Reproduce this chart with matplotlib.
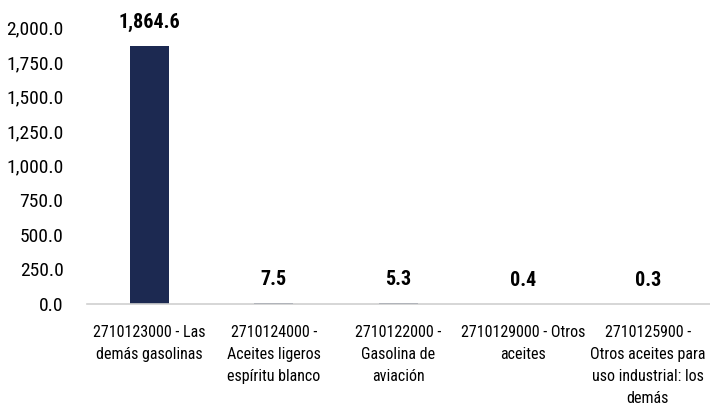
import matplotlib
matplotlib.use("Agg")
import matplotlib.pyplot as plt
from matplotlib import font_manager as fm
from matplotlib.ticker import FuncFormatter

categories = [
    "2710123000 - Las\ndemás gasolinas",
    "2710124000 -\nAceites ligeros\nespíritu blanco",
    "2710122000 -\nGasolina de\naviación",
    "2710129000 - Otros\naceites",
    "2710125900 -\nOtros aceites para\nuso industrial: los\ndemás",
]
values = [1864.6, 7.5, 5.3, 0.4, 0.3]
yticks = [0, 250, 500, 750, 1000, 1250, 1500, 1750, 2000]

# pick a condensed font if present
cands = [f for f in fm.fontManager.ttflist
         if any(k in f.fname.lower() for k in ("condensed", "narrow", "semicondensed"))]
reg = None
bold = None
for pref in ("roboto", "opensans", "open", "liberation", "noto", "dejavu"):
    for f in cands:
        fn = f.fname.lower().replace(" ", "")
        if pref in fn and "italic" not in fn and "oblique" not in fn:
            if f.weight in (400, "normal", "regular") and reg is None and "bold" not in fn and "light" not in fn and "medium" not in fn and "thin" not in fn and "black" not in fn and "semi" not in fn.split("condensed")[-1] and "extra" not in fn:
                reg = f.fname
            if "bold" in fn and "semi" not in fn.split("condensed")[-1] and "extra" not in fn and bold is None:
                bold = f.fname
    if reg:
        break

if reg:
    fp_reg = fm.FontProperties(fname=reg)
else:
    fp_reg = fm.FontProperties(family="DejaVu Sans", stretch="condensed")
if bold:
    fp_bold = fm.FontProperties(fname=bold)
else:
    fp_bold = fm.FontProperties(family="DejaVu Sans", stretch="condensed", weight="bold")

fig = plt.figure(figsize=(7.1, 4.16), dpi=100)
ax = fig.add_axes([87/710, 1 - 304/416, 623/710, (304 - 27.3)/416])

x = list(range(len(categories)))
ax.bar(x, values, width=0.313, color="#1c2951", zorder=2)
for xi, v in zip(x, values):
    t = ax.annotate(f"{v:,.1f}", xy=(xi, v), xytext=(0, 13), textcoords="offset points",
                    ha="center", va="baseline", color="black")
    t.set_fontproperties(fp_bold)
    t.set_fontsize(14.5)

ax.set_xlim(-0.5, len(categories) - 0.5)
ax.set_ylim(0, 2000)
ax.set_yticks(yticks)
ax.yaxis.set_major_formatter(FuncFormatter(lambda v, p: f"{v:,.1f}"))
ax.set_xticks(x)
ax.set_xticklabels(categories, linespacing=1.6)
ax.tick_params(axis="y", length=0, pad=17)
ax.tick_params(axis="x", length=0, pad=15)
for lab in ax.get_yticklabels():
    lab.set_fontproperties(fp_reg)
    lab.set_fontsize(14)
for lab in ax.get_xticklabels():
    lab.set_fontproperties(fp_reg)
    lab.set_fontsize(11.5)
for s in ["top", "right", "left"]:
    ax.spines[s].set_visible(False)
ax.spines["bottom"].set_color("#d0d0d0")
ax.spines["bottom"].set_linewidth(1.2)

fig.savefig("out.png", dpi=100)
